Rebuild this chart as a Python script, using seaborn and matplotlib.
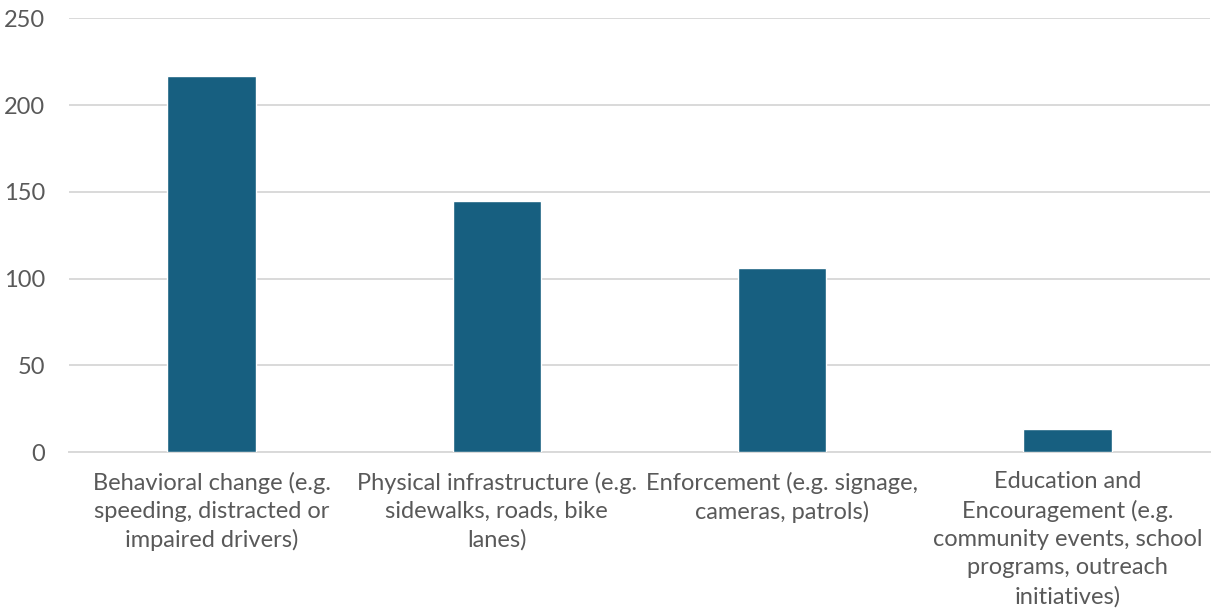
import matplotlib
matplotlib.use("Agg")
import matplotlib.pyplot as plt
import seaborn as sns
import pandas as pd

categories = [
    "Behavioral change (e.g.\nspeeding, distracted or\nimpaired drivers)",
    "Physical infrastructure (e.g.\nsidewalks, roads, bike\nlanes)",
    "Enforcement (e.g. signage,\ncameras, patrols)",
    "Education and\nEncouragement (e.g.\ncommunity events, school\nprograms, outreach\ninitiatives)",
]
counts = [217, 145, 106, 13]
y_ticks = [0, 50, 100, 150, 200, 250]

bar_color = "#175F80"
grid_color = "#D9D9D9"
text_color = "#595959"

sns.set_theme(style="white")
plt.rcParams["font.family"] = ["Lato", "DejaVu Sans"]

df = pd.DataFrame({"category": categories, "count": counts})

fig = plt.figure(figsize=(12.17, 6.16), dpi=100)
ax = fig.add_axes([0.0567, 0.2662, 0.9375, 0.7038])

sns.barplot(data=df, x="category", y="count", color=bar_color,
            width=0.31, saturation=1, ax=ax, zorder=3)

ax.set_ylim(0, 250)
ax.set_yticks(y_ticks)
ax.set_xlim(-0.5, len(categories) - 0.5)
ax.yaxis.grid(True, color=grid_color, linewidth=1.4, zorder=0)
ax.set_axisbelow(True)
for side in ["top", "right", "left"]:
    ax.spines[side].set_visible(False)
ax.spines["bottom"].set_color(grid_color)
ax.spines["bottom"].set_linewidth(1.4)
ax.set_xlabel("")
ax.set_ylabel("")
ax.tick_params(axis="y", length=0, pad=17, labelsize=17, labelcolor=text_color)
ax.tick_params(axis="x", length=0, pad=14, labelsize=17, labelcolor=text_color)
for lbl in ax.get_xticklabels():
    lbl.set_linespacing(1.42)
    lbl.set_ha("center")

fig.savefig("out.png", dpi=100, facecolor="white")
